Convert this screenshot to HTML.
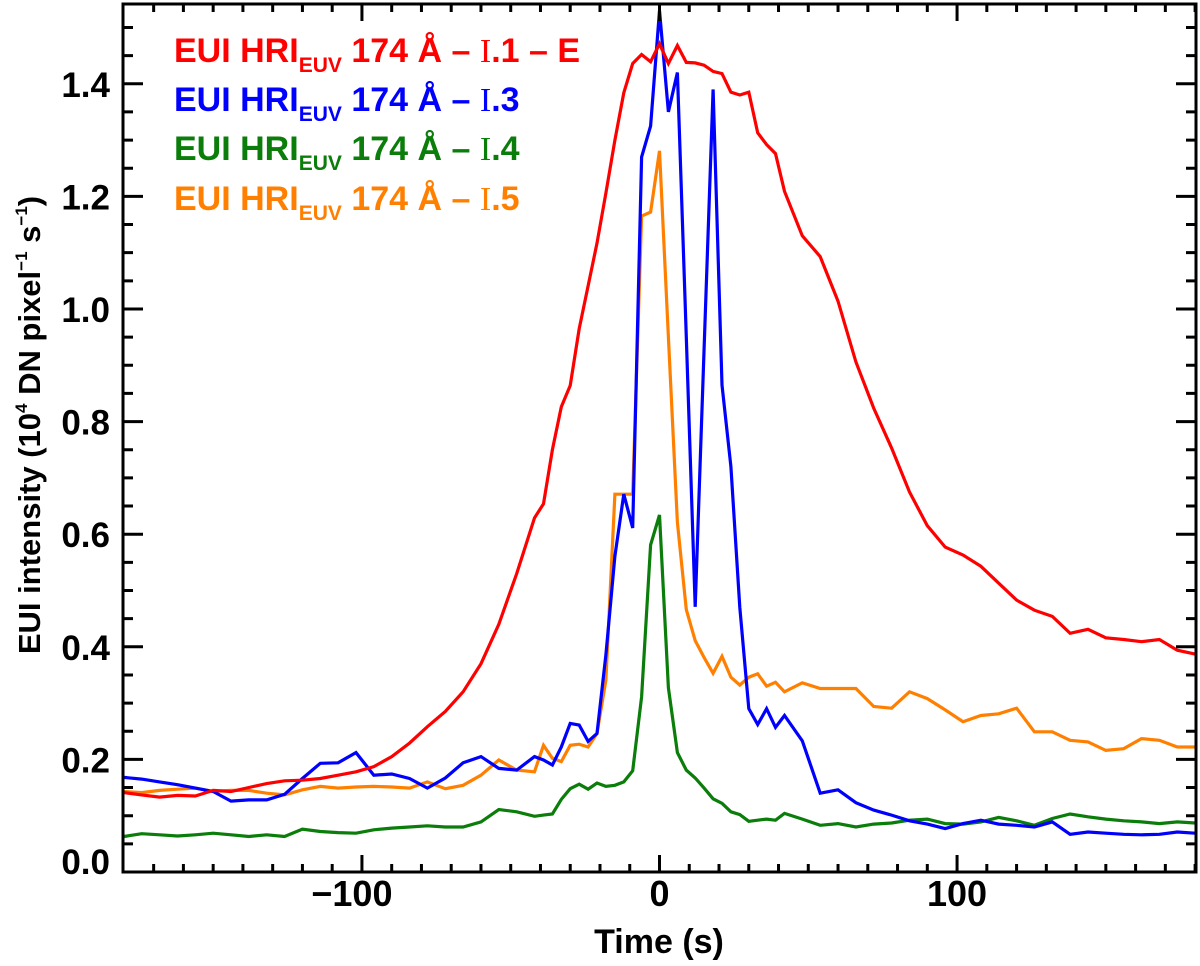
<!DOCTYPE html>
<html><head><meta charset="utf-8"><style>
html,body{margin:0;padding:0;background:#fff;}
svg{display:block;font-family:"Liberation Sans",sans-serif;font-weight:bold;}
</style></head><body>
<svg id="chart" width="1200" height="966" viewBox="0 0 1200 966" xmlns="http://www.w3.org/2000/svg">
<g id="series"></g>
<g id="axes"></g>
<g id="legend" font-size="34">
<text x="174" y="62" fill="#ff0000">EUI HRI<tspan font-size="21" dy="10">EUV</tspan><tspan dy="-10"> 174 Å – </tspan><tspan font-family="Liberation Serif, serif" font-weight="normal">I</tspan>.1 – E</text>
<text x="174" y="111" fill="#0000ff">EUI HRI<tspan font-size="21" dy="10">EUV</tspan><tspan dy="-10"> 174 Å – </tspan><tspan font-family="Liberation Serif, serif" font-weight="normal">I</tspan>.3</text>
<text x="174" y="160" fill="#0a7d0a">EUI HRI<tspan font-size="21" dy="10">EUV</tspan><tspan dy="-10"> 174 Å – </tspan><tspan font-family="Liberation Serif, serif" font-weight="normal">I</tspan>.4</text>
<text x="174" y="210" fill="#ff8000">EUI HRI<tspan font-size="21" dy="10">EUV</tspan><tspan dy="-10"> 174 Å – </tspan><tspan font-family="Liberation Serif, serif" font-weight="normal">I</tspan>.5</text>
</g>
<text x="659" y="953" font-size="34" text-anchor="middle">Time (s)</text>
<text transform="translate(40,425) rotate(-90)" font-size="31" text-anchor="middle">EUI intensity (10<tspan font-size="17" dy="-13">4</tspan><tspan dy="13"> DN pixel</tspan><tspan font-size="17" dy="-13">−1</tspan><tspan dy="13"> s</tspan><tspan font-size="17" dy="-13">−1</tspan><tspan dy="13">)</tspan></text>
</svg>
<script>
const times = [-180,-174,-168,-162,-156,-150,-144,-138,-132,-126,-120,-114,-108,-102,-96,-90,-84,-78,-72,-66,-60,-54,-48,-42,
-39,-36,-33,-30,-27,-24,-21,-18,-15,-12,-9,-6,-3,0,3,6,9,12,15,18,21,24,27,30,33,36,39,
42,48,54,60,66,72,78,84,90,96,102,108,114,120,126,132,138,144,150,156,162,168,174,180];
const redI1 = [0.141,0.137,0.133,0.136,0.135,0.145,0.143,0.150,0.157,0.162,0.163,0.166,0.172,0.178,0.187,0.205,0.229,0.258,0.285,0.320,0.370,0.440,0.530,0.629,
0.654,0.750,0.826,0.864,0.965,1.041,1.117,1.206,1.300,1.384,1.436,1.452,1.439,1.471,1.436,1.468,1.438,1.437,1.433,1.422,1.418,1.385,1.380,1.385,1.313,1.292,1.276,
1.209,1.130,1.093,1.014,0.906,0.824,0.753,0.675,0.615,0.577,0.563,0.543,0.513,0.483,0.465,0.454,0.424,0.431,0.416,0.413,0.409,0.413,0.394,0.387];
const blueI3 = [0.168,0.165,0.160,0.155,0.149,0.143,0.126,0.128,0.128,0.138,0.166,0.193,0.194,0.212,0.172,0.174,0.166,0.149,0.167,0.194,0.205,0.184,0.181,0.205,
0.199,0.190,0.222,0.264,0.261,0.232,0.246,0.386,0.561,0.671,0.611,1.270,1.325,1.530,1.350,1.420,0.950,0.471,0.930,1.390,0.865,0.720,0.470,0.290,0.262,0.290,0.257,
0.278,0.233,0.140,0.146,0.123,0.110,0.101,0.091,0.085,0.077,0.086,0.092,0.085,0.083,0.080,0.089,0.067,0.071,0.069,0.067,0.066,0.067,0.071,0.069];
const greenI4 = [0.063,0.068,0.066,0.064,0.066,0.069,0.066,0.063,0.066,0.063,0.076,0.072,0.070,0.069,0.075,0.078,0.080,0.082,0.080,0.080,0.089,0.111,0.107,0.099,
0.101,0.103,0.129,0.148,0.156,0.147,0.158,0.152,0.154,0.160,0.180,0.311,0.581,0.634,0.327,0.212,0.181,0.167,0.149,0.130,0.122,0.107,0.102,0.090,0.092,0.094,0.092,
0.104,0.094,0.083,0.086,0.080,0.085,0.087,0.092,0.094,0.086,0.085,0.089,0.097,0.091,0.083,0.095,0.103,0.098,0.094,0.091,0.089,0.086,0.089,0.087];
const orangeI5 = [0.143,0.141,0.145,0.147,0.149,0.143,0.145,0.145,0.140,0.137,0.146,0.152,0.149,0.151,0.152,0.151,0.149,0.160,0.148,0.154,0.172,0.199,0.181,0.178,
0.225,0.202,0.196,0.225,0.227,0.222,0.246,0.341,0.671,0.671,0.671,1.165,1.172,1.281,0.950,0.621,0.466,0.411,0.381,0.353,0.383,0.346,0.332,0.346,0.352,0.330,0.337,
0.320,0.336,0.326,0.326,0.326,0.294,0.291,0.320,0.308,0.288,0.267,0.278,0.281,0.291,0.249,0.249,0.234,0.231,0.216,0.219,0.237,0.234,0.222,0.222];
const yTickLabels = ["0.0","0.2","0.4","0.6","0.8","1.0","1.2","1.4"];
const yTickValues = [0,0.2,0.4,0.6,0.8,1.0,1.2,1.4];
const xTickLabels = ["−100","0","100"];
const xTickValues = [-100,0,100];

const NS = "http://www.w3.org/2000/svg";
const L = 123, R = 1196, T = 4, B = 872;
const XMIN = -180.3, XMAX = 180.3, YMIN = 0, YMAX = 1.5417;
function xs(t){ return L + (t - XMIN) / (XMAX - XMIN) * (R - L); }
function ys(v){ return B - (v - YMIN) / (YMAX - YMIN) * (B - T); }
function mk(tag, attrs, parent){
  const e = document.createElementNS(NS, tag);
  for (const k in attrs) e.setAttribute(k, attrs[k]);
  parent.appendChild(e); return e;
}
const sg = document.getElementById("series");
const clip = mk("clipPath", {id:"plotclip"}, sg);
mk("rect", {x:L, y:T, width:R-L, height:B-T}, clip);
const seriesList = [[redI1,"#ff0000","series-i1-e"],[blueI3,"#0000ff","series-i3"],[greenI4,"#0a7d0a","series-i4"],[orangeI5,"#ff8000","series-i5"]];
[2,3,1,0].forEach(function(idx){
  const s = seriesList[idx];
  const pts = times.map(function(t,i){ return xs(t).toFixed(1)+","+ys(s[0][i]).toFixed(1); }).join(" ");
  const pl = mk("polyline", {points:pts, fill:"none", stroke:s[1], "stroke-width":3.2, "stroke-linejoin":"miter", "clip-path":"url(#plotclip)"}, sg);
  
  
});
const ag = document.getElementById("axes");
const frame = mk("rect", {x:L, y:T, width:R-L, height:B-T, fill:"none", stroke:"#000", "stroke-width":3}, ag);


for (let t = -170; t <= 180; t += 10) {
  const major = (t % 100 === 0);
  const len = major ? 17 : 8;
  const x = xs(t);
  const tk = mk("path", {d:"M"+x+" "+B+"V"+(B-len)+"M"+x+" "+T+"V"+(T+len), stroke:"#000", "stroke-width":3}, ag);
  
  
}
for (let k = 1; k <= 30; k++) {
  const v = k * 0.05;
  if (v > YMAX) break;
  const major = (k % 4 === 0);
  const len = major ? 20 : 10;
  const y = ys(v);
  const tk = mk("path", {d:"M"+L+" "+y+"H"+(L+len)+"M"+R+" "+y+"H"+(R-len), stroke:"#000", "stroke-width":3}, ag);
  
  
}
yTickValues.forEach(function(v,i){
  const tx = mk("text", {x:110, y:ys(v)+13 - (i===0?11:0), "font-size":35, "text-anchor":"end"}, ag);
  tx.textContent = yTickLabels[i];
  
  
});
xTickValues.forEach(function(v,i){
  const tx = mk("text", {x:xs(v) + (v<0?-10:0), y:906, "font-size":36, "text-anchor":"middle"}, ag);
  tx.textContent = xTickLabels[i];
  
  
});
</script>
</body></html>
